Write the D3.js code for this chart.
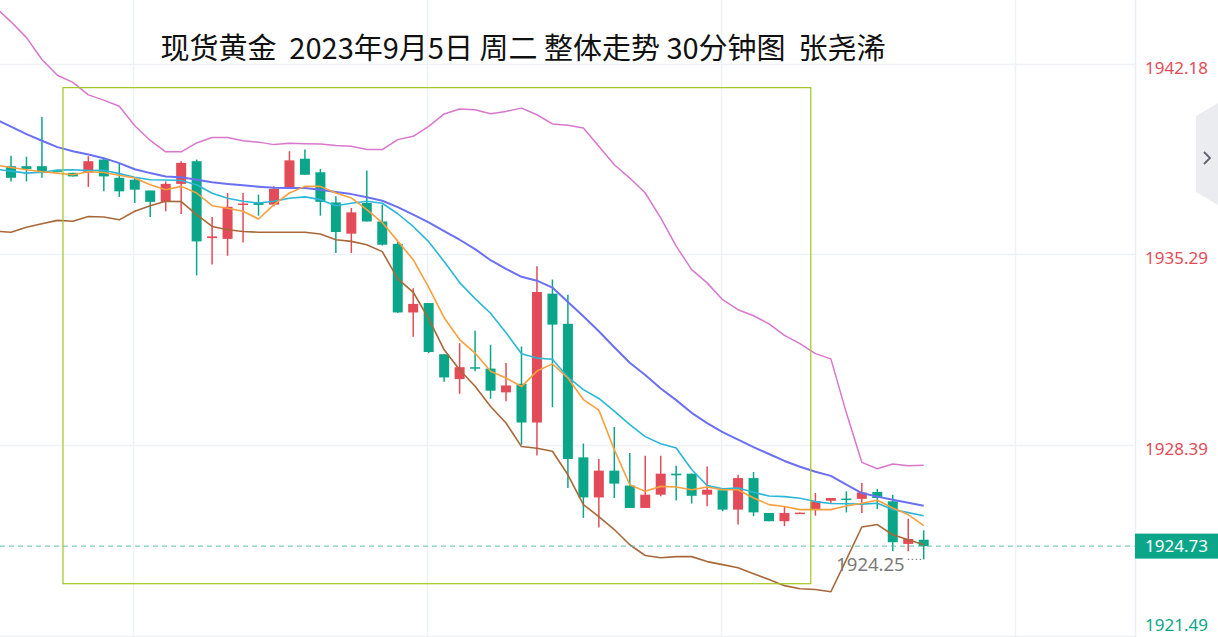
<!DOCTYPE html>
<html>
<head>
<meta charset="utf-8">
<script src="https://cdnjs.cloudflare.com/ajax/libs/d3/7.8.5/d3.min.js"></script>
<style>
  html, body { margin: 0; padding: 0; background: #fff; }
  svg { display: block; font-family: "Noto Sans", "Noto Sans CJK SC", sans-serif; }
</style>
</head>
<body>
<div id="chart"></div>
<script>
// 30 minute candles, spot gold, 5 Sep 2023 (red = up, green = down)
var width = 1218,
    height = 637,
    axisLeft = 1135;

var titleText = "现货黄金  2023年9月5日 周二 整体走势 30分钟图  张尧浠";

var open = [
    1938.47, 1938.47, 1938.47, 1938.32, 1938.23, 1938.23, 1938.71, 1938.05, 1937.98, 1937.59,
    1937.18, 1937.83, 1938.65, 1935.87, 1935.84, 1937.07, 1937.14, 1937.08, 1937.69, 1938.74,
    1938.25, 1937.16, 1936.03, 1937.14, 1936.47, 1935.66, 1933.18, 1933.52, 1931.67, 1930.77,
    1931.20, 1931.15, 1930.29, 1930.60, 1929.20, 1933.86, 1932.77, 1927.94, 1926.49, 1927.46,
    1926.92, 1926.11, 1926.59, 1927.35, 1927.35, 1926.59, 1926.75, 1926.05, 1927.19, 1925.93,
    1925.63, 1925.90, 1926.05, 1926.37, 1926.45, 1926.44, 1926.69, 1926.35, 1924.81, 1924.96];
var high = [
    1938.85, 1938.81, 1940.25, 1938.34, 1938.23, 1938.83, 1938.77, 1938.59, 1938.08, 1937.59,
    1937.92, 1938.65, 1938.71, 1936.63, 1937.50, 1937.50, 1937.44, 1937.74, 1939.01, 1939.07,
    1938.37, 1937.38, 1936.96, 1938.31, 1937.08, 1935.75, 1934.06, 1933.52, 1931.67, 1932.07,
    1932.52, 1932.01, 1931.35, 1931.95, 1934.85, 1934.37, 1933.82, 1928.44, 1927.88, 1929.04,
    1928.10, 1928.00, 1928.00, 1927.64, 1927.35, 1927.61, 1926.75, 1927.31, 1927.41, 1925.93,
    1926.17, 1925.95, 1926.65, 1926.47, 1926.71, 1927.01, 1926.80, 1926.59, 1925.72, 1925.30];
var low = [
    1937.92, 1937.92, 1938.05, 1938.28, 1938.10, 1937.72, 1937.56, 1937.36, 1937.14, 1936.63,
    1936.84, 1936.74, 1934.52, 1934.91, 1935.23, 1935.71, 1936.68, 1937.02, 1937.67, 1938.16,
    1936.68, 1935.33, 1935.33, 1936.47, 1935.60, 1933.16, 1932.30, 1931.71, 1930.67, 1930.24,
    1931.05, 1930.06, 1929.97, 1928.40, 1928.01, 1929.75, 1926.83, 1925.75, 1925.40, 1926.47,
    1926.11, 1926.11, 1926.53, 1926.38, 1926.27, 1926.17, 1925.99, 1925.51, 1925.81, 1925.63,
    1925.45, 1925.89, 1925.83, 1926.27, 1925.95, 1925.93, 1926.07, 1924.54, 1924.54, 1924.25];
var close = [
    1938.05, 1938.37, 1938.23, 1938.30, 1938.10, 1938.65, 1938.10, 1937.56, 1937.62, 1937.18,
    1937.83, 1938.59, 1935.75, 1935.93, 1937.00, 1937.12, 1937.07, 1937.65, 1938.68, 1938.16,
    1937.18, 1936.09, 1936.80, 1936.47, 1935.63, 1933.18, 1933.49, 1931.75, 1930.83, 1931.20,
    1931.15, 1930.35, 1930.54, 1929.20, 1933.92, 1932.74, 1927.88, 1926.49, 1927.46, 1926.99,
    1926.11, 1926.59, 1927.35, 1927.29, 1926.55, 1926.77, 1926.05, 1927.19, 1925.95, 1925.63,
    1925.93, 1925.94, 1926.35, 1926.47, 1926.41, 1926.67, 1926.47, 1924.87, 1924.99, 1924.73];

// indicator lines: first value belongs to the bar just before the visible window
var bollUpper = [1944.22,
    1943.69, 1943.12, 1942.33, 1941.76, 1941.50, 1941.05, 1940.86, 1940.64, 1939.93, 1939.40,
    1938.99, 1938.99, 1939.31, 1939.51, 1939.51, 1939.39, 1939.34, 1939.25, 1939.30, 1939.28,
    1939.27, 1939.22, 1939.19, 1939.07, 1939.07, 1939.43, 1939.55, 1939.91, 1940.36, 1940.54,
    1940.51, 1940.37, 1940.45, 1940.57, 1940.33, 1940.00, 1939.95, 1939.85, 1939.19, 1938.52,
    1938.04, 1937.50, 1936.60, 1935.58, 1934.73, 1934.25, 1933.64, 1933.28, 1933.06, 1932.77,
    1932.35, 1932.05, 1931.69, 1931.50, 1929.55, 1927.76, 1927.53, 1927.70, 1927.64, 1927.65];
var bollMid = [1940.17,
    1939.90, 1939.63, 1939.39, 1939.16, 1939.01, 1938.89, 1938.76, 1938.58, 1938.36, 1938.22,
    1938.10, 1938.07, 1937.98, 1937.89, 1937.83, 1937.78, 1937.73, 1937.69, 1937.68, 1937.68,
    1937.62, 1937.54, 1937.46, 1937.35, 1937.22, 1936.99, 1936.72, 1936.44, 1936.12, 1935.81,
    1935.47, 1935.07, 1934.76, 1934.47, 1934.33, 1934.08, 1933.56, 1933.04, 1932.50, 1931.92,
    1931.36, 1930.92, 1930.43, 1930.01, 1929.55, 1929.18, 1928.85, 1928.58, 1928.31, 1928.06,
    1927.81, 1927.60, 1927.42, 1927.27, 1926.95, 1926.65, 1926.52, 1926.41, 1926.30, 1926.19];
var bollLower = [1936.12,
    1936.08, 1936.26, 1936.39, 1936.51, 1936.48, 1936.65, 1936.63, 1936.53, 1936.84, 1937.04,
    1937.20, 1937.19, 1936.72, 1936.29, 1936.17, 1936.11, 1936.08, 1936.08, 1936.08, 1936.08,
    1936.02, 1935.81, 1935.75, 1935.63, 1935.38, 1934.40, 1933.91, 1932.96, 1931.83, 1931.11,
    1930.51, 1929.78, 1929.18, 1928.33, 1928.27, 1928.16, 1927.31, 1926.23, 1925.80, 1925.33,
    1924.78, 1924.39, 1924.31, 1924.35, 1924.35, 1924.17, 1924.06, 1923.95, 1923.73, 1923.52,
    1923.30, 1923.19, 1923.16, 1923.08, 1924.24, 1925.42, 1925.51, 1925.14, 1924.96, 1924.78];
var ma5 = [1938.51,
    1938.42, 1938.34, 1938.27, 1938.22, 1938.16, 1938.27, 1938.24, 1938.14, 1938.04, 1937.80,
    1937.62, 1937.74, 1937.50, 1937.04, 1936.95, 1936.84, 1936.56, 1937.08, 1937.50, 1937.74,
    1937.74, 1937.50, 1937.32, 1936.90, 1936.43, 1935.76, 1935.09, 1934.09, 1932.99, 1932.20,
    1931.71, 1931.05, 1930.81, 1930.50, 1931.06, 1931.32, 1930.81, 1930.03, 1929.65, 1928.22,
    1926.95, 1926.71, 1926.89, 1926.87, 1926.77, 1926.87, 1926.77, 1926.77, 1926.47, 1926.23,
    1926.16, 1926.05, 1926.05, 1926.05, 1926.18, 1926.28, 1926.39, 1926.11, 1925.87, 1925.47];
var ma10 = [1938.36,
    1938.29, 1938.22, 1938.25, 1938.33, 1938.34, 1938.31, 1938.32, 1938.20, 1938.07, 1937.98,
    1937.97, 1937.95, 1937.80, 1937.49, 1937.31, 1937.20, 1937.14, 1937.20, 1937.31, 1937.36,
    1937.26, 1937.04, 1937.13, 1937.20, 1937.13, 1936.75, 1936.29, 1935.74, 1935.02, 1934.26,
    1933.68, 1933.15, 1932.45, 1931.69, 1931.53, 1931.49, 1930.84, 1930.39, 1930.07, 1929.61,
    1929.12, 1928.69, 1928.43, 1928.28, 1927.50, 1926.92, 1926.80, 1926.83, 1926.68, 1926.54,
    1926.52, 1926.46, 1926.34, 1926.27, 1926.26, 1926.25, 1926.28, 1926.05, 1925.94, 1925.83];

// price axis
var tickValues = [1942.18, 1935.29, 1928.39, 1921.49];
var tickLabels = ["1942.18", "1935.29", "1928.39", "1921.49"];
// bar indexes where the time grid lines fall
var timeGrid = [8, 27, 46, 65];

var lastPrice = 1924.73,
    lowPrice = 1924.25,
    lowIndex = 59;

// annotation box (bar index / price corners)
var boxFrom = [3.36, 1941.31],
    boxTo = [51.7, 1923.37];

var upColor = "#e34b58",
    downColor = "#0ba68a";

var x = d3.scaleLinear().domain([0, 59]).range([11, 923.7]);
var y = d3.scaleLinear().domain([1921.49, 1942.18]).range([635.7, 63.6]);

var svg = d3.select("#chart").
    append("svg").
    attr("width", width).
    attr("height", height);

// grid
var grid = svg.append("g");
grid.selectAll(".hgrid").
    data(tickValues).
    enter().
    append("line").
    attr("x1", 0).
    attr("x2", axisLeft).
    attr("y1", function(d) { return Math.round(y(d)) + 0.5; }).
    attr("y2", function(d) { return Math.round(y(d)) + 0.5; }).
    attr("stroke", "#f0f1f5").
    attr("stroke-width", 1.5);
grid.selectAll(".vgrid").
    data(timeGrid).
    enter().
    append("line").
    attr("x1", function(d) { return Math.round(x(d)) - 1.5; }).
    attr("x2", function(d) { return Math.round(x(d)) - 1.5; }).
    attr("y1", 0).
    attr("y2", height).
    attr("stroke", "#f0f1f5").
    attr("stroke-width", 1.5);

var plot = svg.append("g");
plot.append("clipPath").attr("id", "clip").
    append("rect").attr("width", axisLeft).attr("height", height);
plot.attr("clip-path", "url(#clip)");

// candles
var bars = d3.range(open.length).map(function(i) {
    return {i: i, o: open[i], h: high[i], l: low[i], c: close[i]};
});
var candle = plot.selectAll(".candle").
    data(bars).
    enter().
    append("g").
    attr("class", "candle");
candle.append("line").
    attr("x1", function(d) { return x(d.i); }).
    attr("x2", function(d) { return x(d.i); }).
    attr("y1", function(d) { return y(d.h); }).
    attr("y2", function(d) { return y(d.l); }).
    attr("stroke", function(d) { return d.c >= d.o ? upColor : downColor; }).
    attr("stroke-width", 1.5);
candle.append("rect").
    attr("x", function(d) { return x(d.i) - 5; }).
    attr("width", 10).
    attr("y", function(d) { return y(Math.max(d.o, d.c)); }).
    attr("height", function(d) { return Math.max(1.5, Math.abs(y(d.o) - y(d.c))); }).
    attr("fill", function(d) { return d.c >= d.o ? upColor : downColor; });

// indicator lines
var line = d3.line().
    x(function(d, i) { return x(i - 1); }).
    y(function(d) { return y(d); });
var series = [
    {v: bollUpper, color: "#d977cd", w: 1.5},
    {v: bollLower, color: "#a9683a", w: 1.6},
    {v: bollMid, color: "#6b70f2", w: 2},
    {v: ma10, color: "#2bb7d8", w: 1.6},
    {v: ma5, color: "#f8a03e", w: 1.6}
];
plot.selectAll(".ind").
    data(series).
    enter().
    append("path").
    attr("d", function(d) { return line(d.v); }).
    attr("fill", "none").
    attr("stroke", function(d) { return d.color; }).
    attr("stroke-width", function(d) { return d.w; }).
    attr("stroke-linejoin", "round");

// last price dashed line
plot.append("line").
    attr("x1", 0).
    attr("x2", axisLeft).
    attr("y1", y(lastPrice)).
    attr("y2", y(lastPrice)).
    attr("stroke", "#5cbfa6").
    attr("stroke-width", 1).
    attr("stroke-dasharray", "5,4");

// annotation box
plot.append("rect").
    attr("x", x(boxFrom[0])).
    attr("y", y(boxFrom[1])).
    attr("width", x(boxTo[0]) - x(boxFrom[0])).
    attr("height", y(boxTo[1]) - y(boxFrom[1])).
    attr("fill", "none").
    attr("stroke", "#a2c520").
    attr("stroke-width", 1.2);

// lowest price marker
plot.append("line").
    attr("x1", x(lowIndex) - 16).
    attr("x2", x(lowIndex) - 1).
    attr("y1", y(lowPrice)).
    attr("y2", y(lowPrice)).
    attr("stroke", "#888").
    attr("stroke-width", 1.2).
    attr("stroke-dasharray", "1.5,2.5");
plot.append("text").
    attr("x", x(lowIndex) - 19).
    attr("y", y(lowPrice) + 12).
    attr("text-anchor", "end").
    attr("font-size", 18.5).
    attr("fill", "#7b7b7b").
    text(lowPrice.toFixed(2));

// title: spaces made non-breaking so the double gaps survive
svg.append("text").
    attr("x", 523).
    attr("y", 59).
    attr("text-anchor", "middle").
    attr("font-family", "'Noto Sans CJK SC', 'Noto Sans', sans-serif").
    attr("font-size", 29).
    attr("fill", "#111").
    text(titleText.replace(/ /g, "\u00a0"));

// right price axis
svg.append("line").
    attr("x1", axisLeft + 0.5).
    attr("x2", axisLeft + 0.5).
    attr("y1", 0).
    attr("y2", height).
    attr("stroke", "#eceef3").
    attr("stroke-width", 1.5);
var yAxis = d3.axisRight(y).
    tickValues(tickValues).
    tickSize(0).
    tickPadding(10).
    tickFormat(function(d, i) { return tickLabels[i]; });
var axisG = svg.append("g").
    attr("transform", "translate(" + axisLeft + ",0)").
    call(yAxis);
axisG.select(".domain").remove();
axisG.selectAll(".tick text").
    attr("font-family", "'Noto Sans', sans-serif").
    attr("font-size", 17).
    attr("fill", function(d) { return d < 1922 ? downColor : upColor; }).
    // labels sit a little under their grid line; the bottom one is kept inside the frame
    attr("y", function(d) { return d < 1922 ? -11 : 4; });

// current price tag
svg.append("rect").
    attr("x", axisLeft).
    attr("y", y(lastPrice) - 12.5).
    attr("width", width - axisLeft).
    attr("height", 25).
    attr("fill", downColor);
svg.append("text").
    attr("x", axisLeft + 10).
    attr("y", y(lastPrice)).
    attr("dy", "0.35em").
    attr("font-size", 17).
    attr("fill", "#fff").
    text(lastPrice.toFixed(2));

// collapse tab at the right edge
svg.append("path").
    attr("d", "M1218,103 L1196,116 L1196,192 L1218,205 Z").
    attr("fill", "#ebecf0");
svg.append("path").
    attr("d", "M1204,152 L1210,158 L1204,164").
    attr("fill", "none").
    attr("stroke", "#5f6270").
    attr("stroke-width", 1.8);
</script>
</body>
</html>
